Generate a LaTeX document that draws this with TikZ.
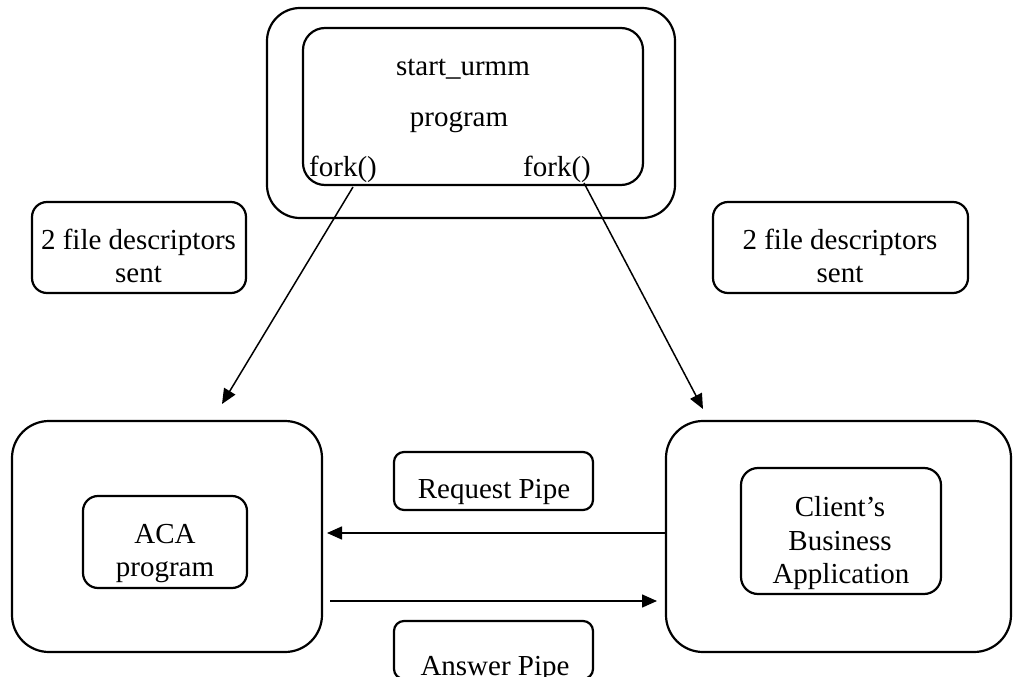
\documentclass[tikz,border=0pt]{standalone}
\usepackage{fontspec}
\setmainfont{Liberation Serif}
\usetikzlibrary{arrows.meta}
\begin{document}
\begin{tikzpicture}[x=1pt,y=-1pt,
  rbox/.style={draw, line width=2.2pt, inner sep=0pt, rounded corners=#1},
  lbl/.style={font=\fontsize{29}{33}\selectfont, inner sep=0pt, anchor=base},
  lblw/.style={font=\fontsize{29}{33}\selectfont, inner sep=0pt, anchor=base west},
  arr/.style={line width=1.5pt, -{Triangle[length=15pt,width=13pt]}}]
\useasboundingbox (0,0) rectangle (1013,677);
% boxes
\node[rbox=33pt, minimum width=408pt, minimum height=210pt] (outer) at (471,113) {};
\node[rbox=22pt, minimum width=340pt, minimum height=157pt] (inner) at (473,106.5) {};
\node[rbox=15pt, minimum width=214pt, minimum height=91pt] (fdL) at (139,247.5) {};
\node[rbox=15pt, minimum width=255pt, minimum height=91pt] (fdR) at (840.5,247.5) {};
\node[rbox=37pt, minimum width=310pt, minimum height=231pt] (lbig) at (167,536.5) {};
\node[rbox=15pt, minimum width=164pt, minimum height=92pt] (aca) at (165,542) {};
\node[rbox=37pt, minimum width=345pt, minimum height=231pt] (rbig) at (838.5,536.5) {};
\node[rbox=17pt, minimum width=200pt, minimum height=126pt] (cba) at (841,531) {};
\node[rbox=10pt, minimum width=199pt, minimum height=58pt] (req) at (493.5,481) {};
\node[rbox=10pt, minimum width=199pt, minimum height=58pt] (ans) at (493.5,650) {};
% texts
\node[lbl] (t1) at (463,76) {start\_urmm};
\node[lbl] (t2) at (459,127) {program};
\node[lblw] (fk1) at (309,176) {fork()};
\node[lblw] (fk2) at (523,176) {fork()};
\node[lbl] (fdL1) at (138.5,249) {2 file descriptors};
\node[lbl] (fdL2) at (138.5,282) {sent};
\node[lbl] (fdR1) at (840,249) {2 file descriptors};
\node[lbl] (fdR2) at (840,282) {sent};
\node[lbl] (aca1) at (165,543) {ACA};
\node[lbl] (aca2) at (165,576) {program};
\node[lbl] (cba1) at (840,516) {Client’s};
\node[lbl] (cba2) at (840,550) {Business};
\node[lbl] (cba3) at (841,583) {Application};
\node[lbl] (reqt) at (494,498) {Request Pipe};
\node[lbl] (anst) at (495,675) {Answer Pipe};
% connectors
\coordinate (f1s) at (353,187);
\coordinate (f1e) at (222,404);
\coordinate (f2s) at (584,183);
\coordinate (f2e) at (703,409);
\coordinate (reqE) at (327,533);
\coordinate (ansS) at (330,601);
\coordinate (ansE) at (657,601);
\draw[arr] (f1s) -- (f1e);
\draw[arr] (f2s) -- (f2e);
\draw[arr] ([yshift=3.5pt]rbig.west) -- (reqE);
\draw[arr] (ansS) -- (ansE);
\end{tikzpicture}
\end{document}
